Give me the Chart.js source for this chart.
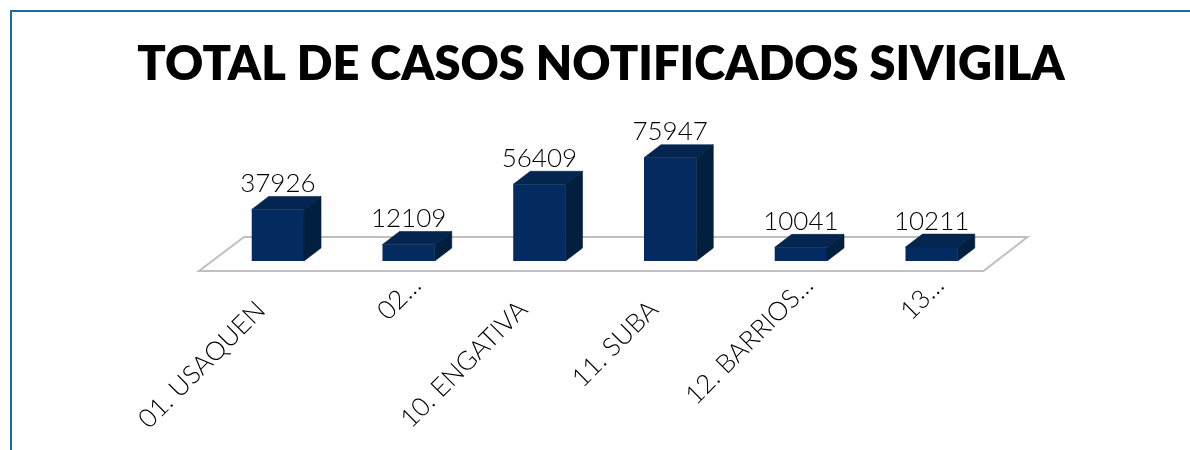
<!DOCTYPE html>
<html><head><meta charset="utf-8">
<style>html,body{margin:0;padding:0;background:#fff;overflow:hidden}
#wrap{position:relative;width:1190px;height:450px}
canvas{display:block}</style>
<script src="https://cdn.jsdelivr.net/npm/chart.js@4"></script>
</head><body><div id="wrap"><canvas id="c" width="1190" height="450"></canvas></div>
<script>
const categories = ["01. USAQUEN","02…","10. ENGATIVA","11. SUBA","12. BARRIOS…","13…"];
const casos = [37926,12109,56409,75947,10041,10211];
const titleText = "TOTAL DE CASOS NOTIFICADOS SIVIGILA";
const FONT = "Lato, 'Open Sans', sans-serif";

const depth3d = {
  id:'depth3d',
  beforeDatasetsDraw(chart){
    const {ctx,chartArea:a,scales:{y}} = chart, b=y.getPixelForValue(0);
    ctx.save();ctx.strokeStyle='#bfbfbf';ctx.lineWidth=2;ctx.lineJoin='miter';
    ctx.beginPath();
    ctx.moveTo(a.left-13.5,b+10);ctx.lineTo(a.right-13.5,b+10);
    ctx.lineTo(a.right+30.5,b-24);ctx.lineTo(a.left+31.5,b-24);ctx.closePath();ctx.stroke();
    ctx.restore();
  },
  afterDatasetsDraw(chart){
    const {ctx}=chart, m=chart.getDatasetMeta(0), dx=17, dy=13;
    ctx.save();ctx.lineWidth=0.6;ctx.lineJoin='round';
    m.data.forEach((bar,i)=>{
      const p=bar.getProps(['x','y','base','width'],true), l=p.x-p.width/2, r=p.x+p.width/2;
      ctx.fillStyle=ctx.strokeStyle='#03254f';
      ctx.beginPath();ctx.moveTo(l,p.y);ctx.lineTo(l+dx,p.y-dy);ctx.lineTo(r+dx,p.y-dy);ctx.lineTo(r,p.y);ctx.closePath();ctx.fill();ctx.stroke();
      ctx.fillStyle=ctx.strokeStyle='#021f40';
      ctx.beginPath();ctx.moveTo(r,p.y);ctx.lineTo(r+dx,p.y-dy);ctx.lineTo(r+dx,p.base-dy);ctx.lineTo(r,p.base);ctx.closePath();ctx.fill();ctx.stroke();
      ctx.fillStyle='#000';ctx.font="300 26px "+FONT;ctx.textAlign='center';ctx.textBaseline='middle';
      ctx.fillText(String(casos[i]),p.x,p.y-26);
    });
    ctx.restore();
  },
  afterDraw(chart){
    const {ctx}=chart;
    ctx.save();
    ctx.font="800 47px "+FONT;ctx.fillStyle='#000';ctx.textAlign='center';ctx.textBaseline='alphabetic';
    ctx.fillText(titleText,601,80);
    ctx.restore();
  }
};
const frame = {
  id:'frame',
  beforeDraw(chart){
    const {ctx}=chart;ctx.save();ctx.fillStyle='#fff';ctx.fillRect(0,0,1190,450);
    ctx.strokeStyle='#1f6aa5';ctx.lineWidth=2;
    ctx.beginPath();ctx.moveTo(11,450);ctx.lineTo(11,11);ctx.lineTo(1190,11);ctx.stroke();
    ctx.restore();
  }
};
new Chart(document.getElementById('c'),{
  type:'bar',
  data:{labels:categories,datasets:[{data:casos,backgroundColor:'#032b5f',barPercentage:0.4,categoryPercentage:1,borderWidth:0}]},
  plugins:[frame,depth3d],
  options:{
    responsive:false,animation:false,
    layout:{padding:{left:212.5,right:193,top:125,bottom:0}},
    plugins:{legend:{display:false},tooltip:{enabled:false},title:{display:false}},
    scales:{
      x:{grid:{display:false},border:{display:false},
        ticks:{color:'#000',font:{family:FONT,size:26,weight:'300'},minRotation:45,maxRotation:45,autoSkip:false,padding:1,labelOffset:8,
          callback(v){const l=this.getLabelForValue(v);return l.endsWith('…')?l:l+'\u00a0\u00a0\u00a0\u00a0\u00a0';}},
        afterFit(s){s.height=189;}},
      y:{display:false,min:0,max:100000}
    }
  }
});
</script></body></html>
